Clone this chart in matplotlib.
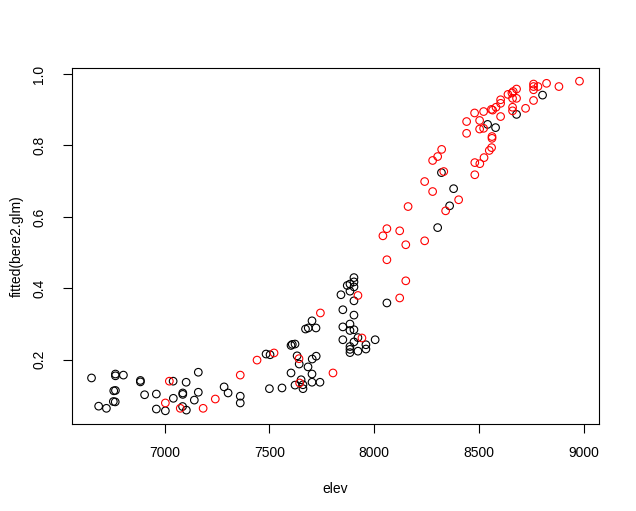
import matplotlib
matplotlib.use("Agg")
import matplotlib.pyplot as plt
import numpy as np

# black points (elev, fitted)
elev_black = [6652, 6766, 6766, 6804, 6758, 6766, 6756, 6765, 6686, 6723,
              6885, 6885, 6905, 6961, 7041, 7103, 6961, 7004, 7042, 7087,
              7087, 7086, 7104, 7142, 7161, 7161, 7284, 7303, 7361, 7361,
              7484, 7503, 7500, 7560, 7603, 7609, 7622, 7632, 7642, 7603,
              7622, 7651, 7660, 7660, 7684, 7703, 7703, 7741, 7704, 7723,
              7672, 7685, 7722, 7703, 7850, 7903, 7884, 7850, 7884, 7903,
              7850, 7922, 7903, 8004, 7960, 7960, 7884, 7884, 7884, 7922,
              7903, 7903, 7903, 7871, 7884, 7884, 7841, 7903, 8060, 8302,
              8320, 8378, 8359, 8540, 8578, 8678, 8802]
fit_black = [0.149, 0.160, 0.155, 0.157, 0.113, 0.114, 0.083, 0.082, 0.070, 0.064,
             0.142, 0.138, 0.102, 0.104, 0.140, 0.137, 0.062, 0.057, 0.092, 0.107,
             0.103, 0.069, 0.059, 0.087, 0.165, 0.109, 0.124, 0.107, 0.098, 0.079,
             0.216, 0.214, 0.119, 0.121, 0.240, 0.243, 0.244, 0.211, 0.188, 0.163,
             0.129, 0.144, 0.130, 0.119, 0.180, 0.160, 0.137, 0.137, 0.202, 0.210,
             0.286, 0.289, 0.289, 0.309, 0.340, 0.325, 0.300, 0.292, 0.282, 0.284,
             0.256, 0.262, 0.250, 0.256, 0.242, 0.230, 0.237, 0.229, 0.220, 0.224,
             0.430, 0.418, 0.404, 0.408, 0.412, 0.392, 0.382, 0.365, 0.359, 0.570,
             0.724, 0.679, 0.631, 0.859, 0.850, 0.887, 0.941]

# red points (elev, fitted)
elev_red = [7023, 7004, 7075, 7184, 7242, 7361, 7441, 7522, 7641, 7644,
            7803, 7743, 7922, 7941, 8060, 8150, 8150, 8121, 8240, 8041,
            8060, 8121, 8161, 8240, 8278, 8340, 8402, 8331, 8278, 8302,
            8321, 8479, 8503, 8479, 8523, 8548, 8559, 8561, 8561, 8440,
            8440, 8502, 8521, 8502, 8478, 8521, 8558, 8564, 8580, 8602,
            8602, 8602, 8637, 8656, 8662, 8659, 8678, 8678, 8659, 8659,
            8721, 8759, 8759, 8759, 8759, 8780, 8821, 8880, 8978]
fit_red = [0.140, 0.079, 0.064, 0.064, 0.090, 0.157, 0.199, 0.219, 0.203, 0.135,
           0.163, 0.331, 0.380, 0.261, 0.480, 0.522, 0.421, 0.373, 0.533, 0.547,
           0.567, 0.561, 0.629, 0.699, 0.671, 0.617, 0.648, 0.727, 0.758, 0.769,
           0.789, 0.752, 0.749, 0.718, 0.766, 0.786, 0.794, 0.820, 0.825, 0.834,
           0.867, 0.846, 0.848, 0.870, 0.891, 0.895, 0.901, 0.899, 0.907, 0.918,
           0.928, 0.881, 0.943, 0.947, 0.951, 0.932, 0.932, 0.958, 0.907, 0.897,
           0.904, 0.972, 0.965, 0.956, 0.926, 0.965, 0.974, 0.965, 0.980]

x_ticks = [7000, 7500, 8000, 8500, 9000]
y_ticks = [0.2, 0.4, 0.6, 0.8, 1.0]

plt.rcParams['font.family'] = ['Liberation Sans', 'DejaVu Sans']

fig = plt.figure(figsize=(6.36, 5.11), dpi=100)
ax = fig.add_axes([72 / 636, 1 - 424 / 511, 527 / 636, 356 / 511])

ax.scatter(elev_black, fit_black, s=30, facecolors='none', edgecolors='black', linewidths=0.8)
ax.scatter(elev_red, fit_red, s=30, facecolors='none', edgecolors='red', linewidths=0.8)

# R-style axis range: data range extended by 4% on each side
all_x = np.array(elev_black + elev_red)
all_y = np.array(fit_black + fit_red)
dx = (all_x.max() - all_x.min()) * 0.04
dy = (all_y.max() - all_y.min()) * 0.04
ax.set_xlim(all_x.min() - dx, all_x.max() + dx)
ax.set_ylim(all_y.min() - dy, all_y.max() + dy)

ax.set_xticks(x_ticks)
ax.set_yticks(y_ticks)
ax.set_xticklabels([str(t) for t in x_ticks])
ax.set_yticklabels([f"{t:.1f}" for t in y_ticks], rotation=90, va='center')
ax.tick_params(axis='x', length=6.5, width=0.8, labelsize=10, pad=9)
ax.tick_params(axis='y', length=6.5, width=0.8, labelsize=10, pad=12)
for sp in ax.spines.values():
    sp.set_linewidth(0.8)

ax.set_xlabel("elev", fontsize=10, labelpad=16)
ax.set_ylabel("fitted(bere2.glm)", fontsize=10, labelpad=6)

fig.savefig("out.png", dpi=100)
